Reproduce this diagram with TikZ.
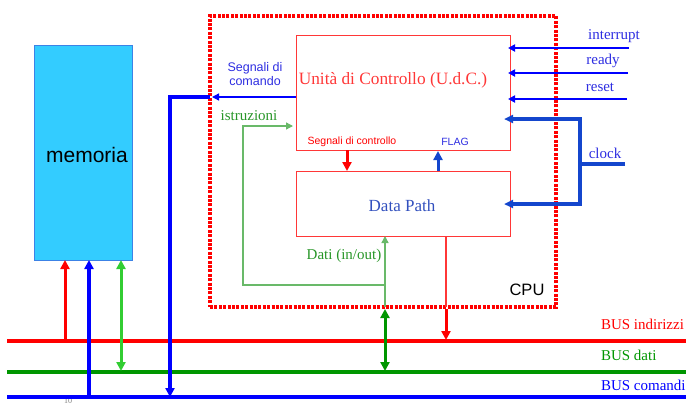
\documentclass[tikz,border=0pt]{standalone}
\usepackage{fontspec}
\setmainfont{Liberation Serif}
\setsansfont{Liberation Sans}
\usetikzlibrary{arrows.meta,positioning,calc}

\definecolor{busred}{RGB}{255,0,0}
\definecolor{udcred}{RGB}{255,55,55}
\definecolor{busgreen}{RGB}{0,150,0}
\definecolor{litegreen}{RGB}{50,205,50}
\definecolor{thingreen}{RGB}{105,185,105}
\definecolor{txtgreen}{RGB}{40,150,40}
\definecolor{busblue}{RGB}{0,0,255}
\definecolor{clkblue}{RGB}{20,70,205}
\definecolor{txtblue}{RGB}{45,45,225}
\definecolor{dpblue}{RGB}{50,80,190}
\definecolor{memfill}{RGB}{51,204,255}
\definecolor{memedge}{RGB}{60,130,230}

\begin{document}
\begin{tikzpicture}[
            x=1pt, y=-1pt,
            every node/.style={inner sep=0pt, outer sep=0pt},
            blk/.style={draw=udcred, line width=1pt, minimum width=214pt},
            cpubox/.style={draw=busred, line width=3.2pt, dash pattern=on 3pt off 1.4pt},
            membox/.style={draw=memedge, fill=memfill, line width=1pt},
            bus/.style={line width=4.5pt},
            tip/.style={-{Triangle[length=9pt,width=9pt]}},
            dtip/.style={{Triangle[length=9pt,width=9pt]}-{Triangle[length=9pt,width=9pt]}},
            smalltip/.style={-{Triangle[length=7pt,width=7pt]}},
            serif/.style={font=\fontsize{15}{15}\selectfont},
            sans/.style={font=\sffamily\fontsize{#1}{#1}\selectfont}
        ]
        \useasboundingbox (0,0) rectangle (686,405);

        % memoria, CPU e blocchi interni
        \node[membox, minimum width=98pt, minimum height=215pt] (mem) at (83,152.5) {};
        \node[sans=21] (memtxt) at (87,155) {memoria};
        \node[cpubox, minimum width=346pt, minimum height=291pt] (cpu) at (383,161.5) {};
        \node[blk, minimum height=115pt] (udc) at (403,92.5) {};
        \node[blk, minimum height=65pt] (dp) at (403,203.5) {};
        \node[text=udcred, font=\fontsize{17.3}{17.3}\selectfont] (udctxt) at (393,80) {Unità di Controllo (U.d.C.)};
        \node[text=dpblue, font=\fontsize{17}{17}\selectfont] (dptxt) at (402,206) {Data Path};
        \node[sans=16.5] (cputxt) at (527,290) {CPU};

        % etichette
        \node[sans=12.5, text=txtblue, align=center] (cmdtxt) at (255,74) {Segnali di\\[1pt]comando};
        \node[serif, text=txtgreen] (isttxt) at (249,116) {istruzioni};
        \node[sans=10.5, text=busred] (sctxt) at (352,142) {Segnali di controllo};
        \node[sans=10.5, text=txtblue] (flagtxt) at (455,142) {FLAG};
        \node[serif, text=txtgreen] (datitxt) at (344,256) {Dati (in/out)};
        \node[serif, text=txtblue] (intrtxt) at (614,36) {interrupt};
        \node[serif, text=txtblue] (readytxt) at (603,61) {ready};
        \node[serif, text=txtblue] (resettxt) at (600,87) {reset};
        \node[serif, text=txtblue] (clktxt) at (605,153) {clock};
        \node[serif, text=busred, anchor=west] (indtxt) at (601,324) {BUS indirizzi};
        \node[serif, text=busgreen, anchor=west] (dattxt) at (601,355) {BUS dati};
        \node[serif, text=busblue, anchor=west] (comtxt) at (601,385) {BUS comandi};
        \node[text=gray, font=\fontsize{8}{8}\selectfont] (pagenum) at (68,400.5) {10};

        % bus
        \coordinate (ind-l) at (7,341);
        \coordinate (dat-l) at (7,372);
        \coordinate (com-l) at (7,397);
        \draw[bus, busred] (ind-l) -- ++(690,0);
        \draw[bus, busgreen] (dat-l) -- ++(690,0);
        \draw[bus, busblue] (com-l) -- ++(690,0);

        % collegamenti memoria
        \coordinate (ma) at (65,0);
        \coordinate (mc) at (89,0);
        \coordinate (md) at (121,0);
        \draw[tip, busred, line width=3pt] (ma |- ind-l) -- (ma |- mem.south);
        \draw[tip, busblue, line width=3.5pt] (mc |- com-l) -- (mc |- mem.south);
        \draw[dtip, litegreen, line width=3pt] (md |- mem.south) -- ($(md |- dat-l)+(0,-1)$);

        % segnali di comando
        \coordinate (cm) at (170,97);
        \draw[smalltip, busblue, line width=1.3pt, shorten >=2pt] (udc.west |- cm) -- (cpu.west |- cm);
        \draw[tip, busblue, line width=4.5pt] (cpu.west |- cm) -- (cm) -- (cm |- com-l);

        % istruzioni e dati
        \coordinate (ist) at (243,126);
        \coordinate (dj) at (385,285);
        \draw[smalltip, thingreen, line width=1.3pt, shorten >=3pt] (dj) -| (ist) -- (ist -| udc.west);
        \draw[smalltip, thingreen, line width=1.3pt] (cpu.south -| dj) -- (dp.south -| dj);
        \draw[dtip, busgreen, line width=3pt, shorten <=2pt] (cpu.south -| dj) -- ($(dj |- dat-l)+(0,-1)$);

        % indirizzi
        \coordinate (ax) at (446,0);
        \draw[udcred, line width=1.2pt] (dp.south -| ax) -- (cpu.south -| ax);
        \draw[tip, busred, line width=3pt, shorten <=2pt] (cpu.south -| ax) -- ($(ax |- ind-l)+(0,-1)$);

        % segnali di controllo e FLAG
        \coordinate (scx) at (347,0);
        \coordinate (fx) at (438,0);
        \draw[tip, busred, line width=3pt] (udc.south -| scx) -- (dp.north -| scx);
        \draw[tip, clkblue, line width=3pt, shorten >=1pt] (dp.north -| fx) -- (udc.south -| fx);

        % ingressi di controllo
        \coordinate (intr) at (629,48);
        \coordinate (ready) at (628,73);
        \coordinate (reset) at (627,99);
        \draw[smalltip, busblue, line width=2pt, shorten >=-2pt] (intr) -- (intr -| udc.east);
        \draw[smalltip, busblue, line width=2pt, shorten >=-2pt] (ready) -- (ready -| udc.east);
        \draw[smalltip, busblue, line width=2pt, shorten >=-2pt] (reset) -- (reset -| udc.east);

        % clock
        \coordinate (ck-top) at (580,119);
        \coordinate (ck-bot) at (580,204);
        \coordinate (clk) at (625,164);
        \draw[clkblue, line width=3.5pt] (clk) -- (clk -| ck-top);
        \draw[{Triangle[length=9pt,width=8pt]}-{Triangle[length=9pt,width=8pt]}, clkblue, line width=3.5pt,
            shorten <=-6pt, shorten >=-6pt]
            (udc.east |- ck-top) -- (ck-top) -- (ck-bot) -- (dp.east |- ck-bot);

        \end{tikzpicture}
\end{document}
